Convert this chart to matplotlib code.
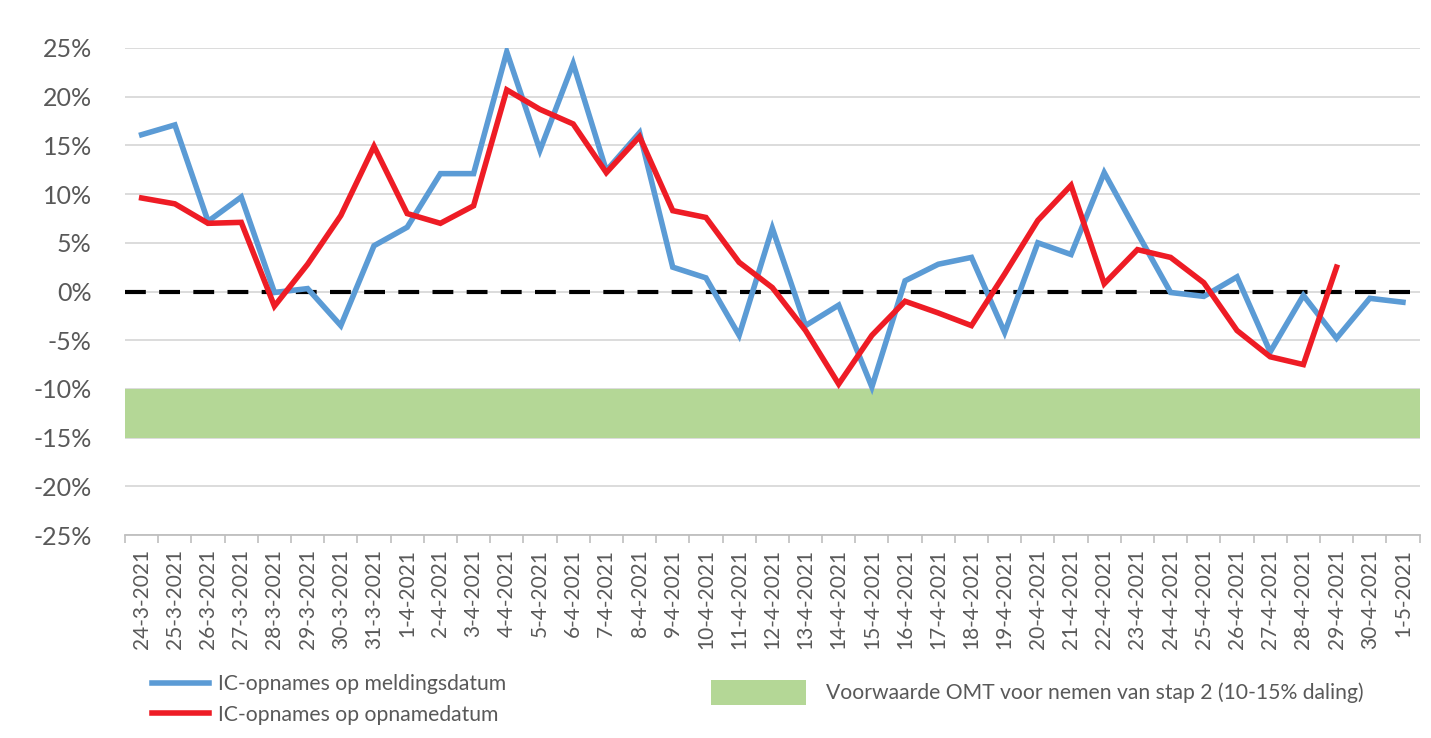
import matplotlib
matplotlib.use("Agg")
import matplotlib.pyplot as plt
from matplotlib.lines import Line2D
from matplotlib.patches import Patch

plt.rcParams['font.family'] = ['Lato', 'DejaVu Sans']

dates = ["24-3-2021", "25-3-2021", "26-3-2021", "27-3-2021", "28-3-2021", "29-3-2021",
         "30-3-2021", "31-3-2021", "1-4-2021", "2-4-2021", "3-4-2021", "4-4-2021",
         "5-4-2021", "6-4-2021", "7-4-2021", "8-4-2021", "9-4-2021", "10-4-2021",
         "11-4-2021", "12-4-2021", "13-4-2021", "14-4-2021", "15-4-2021", "16-4-2021",
         "17-4-2021", "18-4-2021", "19-4-2021", "20-4-2021", "21-4-2021", "22-4-2021",
         "23-4-2021", "24-4-2021", "25-4-2021", "26-4-2021", "27-4-2021", "28-4-2021",
         "29-4-2021", "30-4-2021", "1-5-2021"]

melding = [16.1, 17.1, 7.2, 9.7, -0.1, 0.3, -3.5, 4.7, 6.6, 12.1, 12.1, 24.6,
           14.5, 23.4, 12.4, 16.3, 2.5, 1.4, -4.5, 6.5, -3.5, -1.4, -9.8, 1.1,
           2.8, 3.5, -4.2, 5.0, 3.8, 12.2, 6.0, -0.1, -0.5, 1.5, -6.2, -0.4,
           -4.8, -0.7, -1.1]

opname = [9.6, 9.0, 7.0, 7.1, -1.5, 2.8, 7.8, 14.9, 8.0, 7.0, 8.8, 20.7,
          18.7, 17.2, 12.2, 15.9, 8.3, 7.6, 3.0, 0.4, -4.0, -9.5, -4.5, -1.0,
          -2.2, -3.5, 1.8, 7.3, 10.9, 0.8, 4.3, 3.5, 0.9, -4.0, -6.7, -7.5,
          2.5]

band_low, band_high = -15, -10
yticks = [25, 20, 15, 10, 5, 0, -5, -10, -15, -20, -25]

label_melding = "IC-opnames op meldingsdatum"
label_opname = "IC-opnames op opnamedatum"
label_band = "Voorwaarde OMT voor nemen van stap 2 (10-15% daling)"

blue = "#5B9BD5"
red = "#EE1C25"
green = "#B4D796"
txt = "#595959"

fig = plt.figure(figsize=(14.31, 7.38), dpi=100)
ax = fig.add_axes([0.0874, 0.275, 0.9046, 0.66])

n = len(dates)
ax.axhspan(band_low, band_high, color=green, zorder=1, lw=0)
for y in yticks:
    ax.axhline(y, color="#D9D9D9", lw=1.3, zorder=0)
ax.axhline(0, color="black", lw=3, ls=(0, (5, 3.2)), zorder=2)

ax.plot(range(len(melding)), melding, color=blue, lw=4, zorder=3, solid_joinstyle='miter')
ax.plot(range(len(opname)), opname, color=red, lw=4, zorder=4, solid_joinstyle='miter')

ax.set_xlim(-0.5, n - 0.5)
ax.set_ylim(-25, 25)
ax.set_yticks(yticks)
ax.set_yticklabels([f"{v}%" for v in yticks], fontsize=18, color=txt)
ax.tick_params(axis='y', length=0, pad=24)

ax.set_xticks(range(n))
ax.set_xticklabels(dates, rotation=90, fontsize=15, color=txt)
ax.set_xticks([i - 0.5 for i in range(n + 1)], minor=True)
ax.tick_params(axis='x', which='major', length=0, pad=10)
ax.tick_params(axis='x', which='minor', length=6, color="#BFBFBF", width=1.2)

for s in ["top", "right", "left"]:
    ax.spines[s].set_visible(False)
ax.spines["bottom"].set_color("#BFBFBF")
ax.spines["bottom"].set_linewidth(1.3)

h_lines = [Line2D([0], [0], color=blue, lw=4), Line2D([0], [0], color=red, lw=4)]
leg1 = fig.legend(h_lines, [label_melding, label_opname], loc="upper left",
                  bbox_to_anchor=(0.0985, 0.101), frameon=False, fontsize=15.2,
                  handlelength=2.7, handletextpad=0.45, labelspacing=0.5,
                  borderpad=0, labelcolor=txt)
leg2 = fig.legend([Patch(facecolor=green, edgecolor='none')], [label_band], loc="upper left",
                  bbox_to_anchor=(0.4892, 0.093), frameon=False, fontsize=15.2,
                  handlelength=4.5, handleheight=1.42, handletextpad=0.95,
                  borderpad=0, labelcolor=txt)

fig.savefig("out.png", dpi=100)
